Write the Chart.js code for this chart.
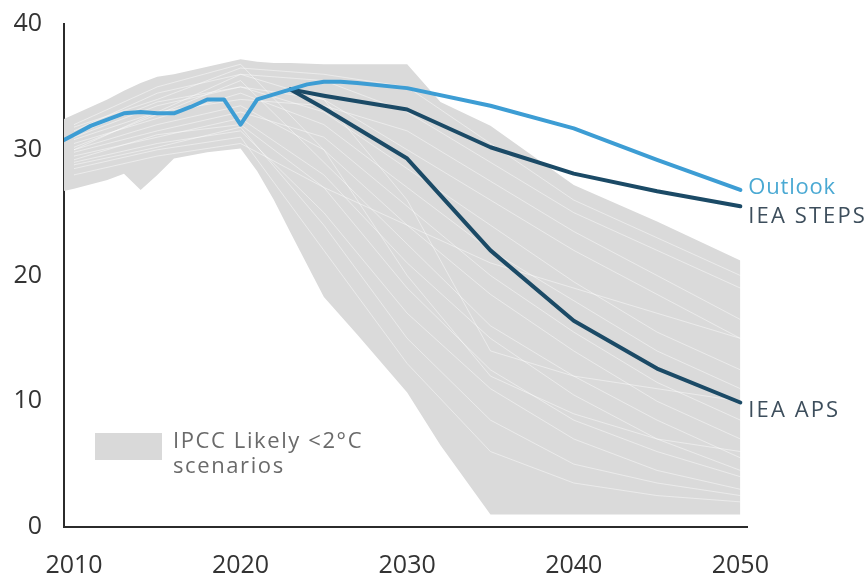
<!DOCTYPE html>
<html>
<head>
<meta charset="utf-8">
<script src="https://cdn.jsdelivr.net/npm/chart.js@4.4.1/dist/chart.umd.min.js"></script>
<style>
  html, body { margin: 0; padding: 0; background: #fff; }
  #wrap { position: relative; width: 868px; height: 574px; font-family: "Open Sans", "Noto Sans", sans-serif; }
  .endlab { position: absolute; font-size: 22px; line-height: 1; white-space: nowrap; transform: translateY(-50%); }
  #legend { position: absolute; left: 95px; top: 431px; }
  #legend .box { position: absolute; left: 0; top: 2px; width: 67px; height: 27px; background: #d9d9d9; }
  #legend .txt { position: absolute; left: 78px; top: -4px; font-size: 22px; line-height: 25px; color: #6a6a6a; white-space: nowrap; letter-spacing: 1.6px; }
</style>
</head>
<body>
<div id="wrap">
  <canvas id="chart"></canvas>
  <div id="legend"><div class="box"></div><div class="txt">IPCC Likely &lt;2°C<br>scenarios</div></div>
</div>
<script>
// Годы и значения линий (читаем с картинки)
const outlookYears  = [2009, 2010, 2011, 2012, 2013, 2014, 2015, 2016, 2017, 2018, 2019, 2020, 2021, 2022, 2023, 2024, 2025, 2026, 2027, 2030, 2035, 2040, 2045, 2050];
const outlookValues = [30.5, 31.2, 31.9, 32.4, 32.9, 33.0, 32.9, 32.9, 33.4, 34.0, 34.0, 32.0, 34.0, 34.4, 34.8, 35.2, 35.4, 35.4, 35.3, 34.9, 33.5, 31.7, 29.2, 26.8];

const ieaYears      = [2023, 2025, 2030, 2035, 2040, 2045, 2050];
const stepsValues   = [34.8, 34.3, 33.2, 30.2, 28.1, 26.7, 25.5];
const apsValues     = [34.8, 33.3, 29.3, 22.0, 16.4, 12.6, 9.9];

// Серая полоса IPCC: верхняя и нижняя граница
const bandYears = [2009, 2010, 2012, 2013, 2014, 2015, 2016, 2018, 2020, 2021, 2022, 2023, 2025, 2027, 2030, 2032, 2035, 2040, 2045, 2050];
const bandHigh  = [32.2, 32.8, 34.0, 34.7, 35.3, 35.8, 36.0, 36.6, 37.2, 37.0, 36.9, 36.9, 36.8, 36.8, 36.8, 33.8, 31.9, 27.2, 24.3, 21.2];
const bandLow   = [26.6, 26.9, 27.6, 28.1, 26.8, 28.0, 29.3, 29.8, 30.1, 28.3, 26.0, 23.4, 18.3, 15.3, 10.7, 6.5, 1.0, 1.0, 1.0, 1.0];

// Отдельные сценарии (белые линии внутри полосы)
const scenarioYears = [2010, 2015, 2020, 2025, 2030, 2035, 2040, 2045, 2050];
const scenarios = [
  [31.5, 34.5, 36.0, 35.5, 33.0, 29.0, 25.0, 22.0, 19.0],
  [31.0, 33.5, 35.0, 34.0, 30.0, 26.0, 22.0, 18.5, 15.0],
  [30.5, 32.5, 34.5, 32.0, 27.0, 22.0, 18.0, 14.0, 11.0],
  [30.0, 32.0, 33.5, 30.0, 24.0, 18.5, 14.0, 10.0, 7.0],
  [29.5, 31.0, 32.5, 28.0, 21.0, 15.0, 10.5, 7.0, 4.5],
  [29.0, 30.5, 31.5, 25.0, 17.0, 11.0, 7.0, 4.5, 3.0],
  [28.5, 30.0, 31.0, 22.0, 13.0, 6.0, 3.5, 2.5, 2.0],
  [31.8, 34.0, 36.5, 36.0, 35.0, 30.5, 26.0, 23.0, 20.0],
  [30.8, 33.0, 34.0, 33.5, 31.5, 27.5, 23.5, 20.0, 16.5],
  [29.8, 31.5, 33.0, 31.0, 25.5, 20.0, 15.5, 11.5, 8.5],
  [30.2, 32.8, 35.5, 29.0, 22.5, 16.0, 12.0, 8.5, 5.5],
  [29.2, 31.2, 32.0, 27.0, 19.0, 12.5, 8.5, 6.0, 4.0],
  [31.2, 33.8, 35.0, 33.0, 28.5, 24.0, 19.5, 15.5, 12.5],
  [28.8, 30.2, 31.8, 24.0, 15.0, 8.5, 5.0, 3.5, 2.5],
  [32.0, 35.0, 36.8, 30.0, 20.0, 12.0, 9.0, 7.0, 6.0],
  [28.0, 29.5, 30.5, 27.0, 24.0, 21.0, 19.0, 17.0, 15.0],
  [30.0, 33.0, 36.0, 34.0, 26.0, 14.0, 12.0, 11.0, 10.0]
];

const xTicks = [2010, 2020, 2030, 2040, 2050];
const yTicks = [0, 10, 20, 30, 40];

const endLabels = [
  { text: 'Outlook',   values: outlookValues, color: '#4aa9d3', dy: -5, spacing: 0.8 },
  { text: 'IEA STEPS', values: stepsValues,   color: '#3d4e5c', dy: 8,  spacing: 2.1 },
  { text: 'IEA APS',   values: apsValues,     color: '#3d4e5c', dy: 5,  spacing: 2.1 }
];

const pts = (xs, ys) => xs.map((x, i) => ({ x: x, y: ys[i] }));

function lineSet(label, xs, ys, color, width) {
  return {
    label: label,
    data: pts(xs, ys),
    borderColor: color,
    borderWidth: width,
    pointRadius: 0,
    fill: false,
    tension: 0,
    borderCapStyle: 'round',
    borderJoinStyle: 'round',
    clip: 0
  };
}

const datasets = [
  lineSet('Outlook', outlookYears, outlookValues, '#3d9dd4', 4),
  lineSet('IEA STEPS', ieaYears, stepsValues, '#1b4a66', 4),
  lineSet('IEA APS', ieaYears, apsValues, '#1b4a66', 4)
];
scenarios.forEach((s, i) => datasets.push(lineSet('s' + i, scenarioYears, s, 'rgba(255,255,255,0.45)', 1)));
datasets.push({
  label: 'band high', data: pts(bandYears, bandHigh),
  borderWidth: 0, pointRadius: 0, tension: 0, clip: 0,
  backgroundColor: '#dadada', fill: '+1'
});
datasets.push({
  label: 'band low', data: pts(bandYears, bandLow),
  borderWidth: 0, pointRadius: 0, tension: 0, clip: 0, fill: false
});

// подписи справа ставим по шкалам
const labelPlugin = {
  id: 'endLabels',
  afterRender(chart) {
    const xs = chart.scales.x, ys = chart.scales.y;
    endLabels.forEach((l, i) => {
      let el = document.getElementById('lab' + i);
      if (!el) {
        el = document.createElement('div');
        el.id = 'lab' + i;
        el.className = 'endlab';
        el.textContent = l.text;
        el.style.color = l.color;
        el.style.letterSpacing = l.spacing + 'px';
        document.getElementById('wrap').appendChild(el);
      }
      el.style.left = (xs.getPixelForValue(2050) + 8) + 'px';
      el.style.top = (ys.getPixelForValue(l.values[l.values.length - 1]) + l.dy) + 'px';
    });
  }
};

const tickFont = { family: '"Open Sans", "Noto Sans", sans-serif', size: 25 };

new Chart(document.getElementById('chart'), {
  type: 'line',
  data: { datasets: datasets },
  options: {
    responsive: true,
    maintainAspectRatio: false,
    animation: false,
    events: [],
    layout: { padding: { top: 24, right: 121, left: 0, bottom: 0 } },
    plugins: { legend: { display: false }, tooltip: { enabled: false } },
    scales: {
      x: {
        type: 'linear',
        min: 2009.4,
        max: 2050.4,
        afterBuildTicks: s => { s.ticks = xTicks.map(v => ({ value: v })); },
        afterFit: s => { s.height = 47; s.paddingLeft = 0; s.paddingRight = 0; },
        grid: { display: false },
        border: { display: true, color: '#2b2b2b', width: 2 },
        ticks: { color: '#333', font: tickFont, padding: 16, maxRotation: 0, autoSkip: false, callback: v => String(v) }
      },
      y: {
        min: 0,
        max: 40,
        afterBuildTicks: s => { s.ticks = yTicks.map(v => ({ value: v })); },
        afterFit: s => { s.width = 64; s.paddingTop = 0; s.paddingBottom = 0; },
        grid: { display: false },
        border: { display: true, color: '#2b2b2b', width: 2 },
        ticks: { color: '#333', font: tickFont, padding: 14 }
      }
    }
  },
  plugins: [labelPlugin]
});
</script>
</body>
</html>
